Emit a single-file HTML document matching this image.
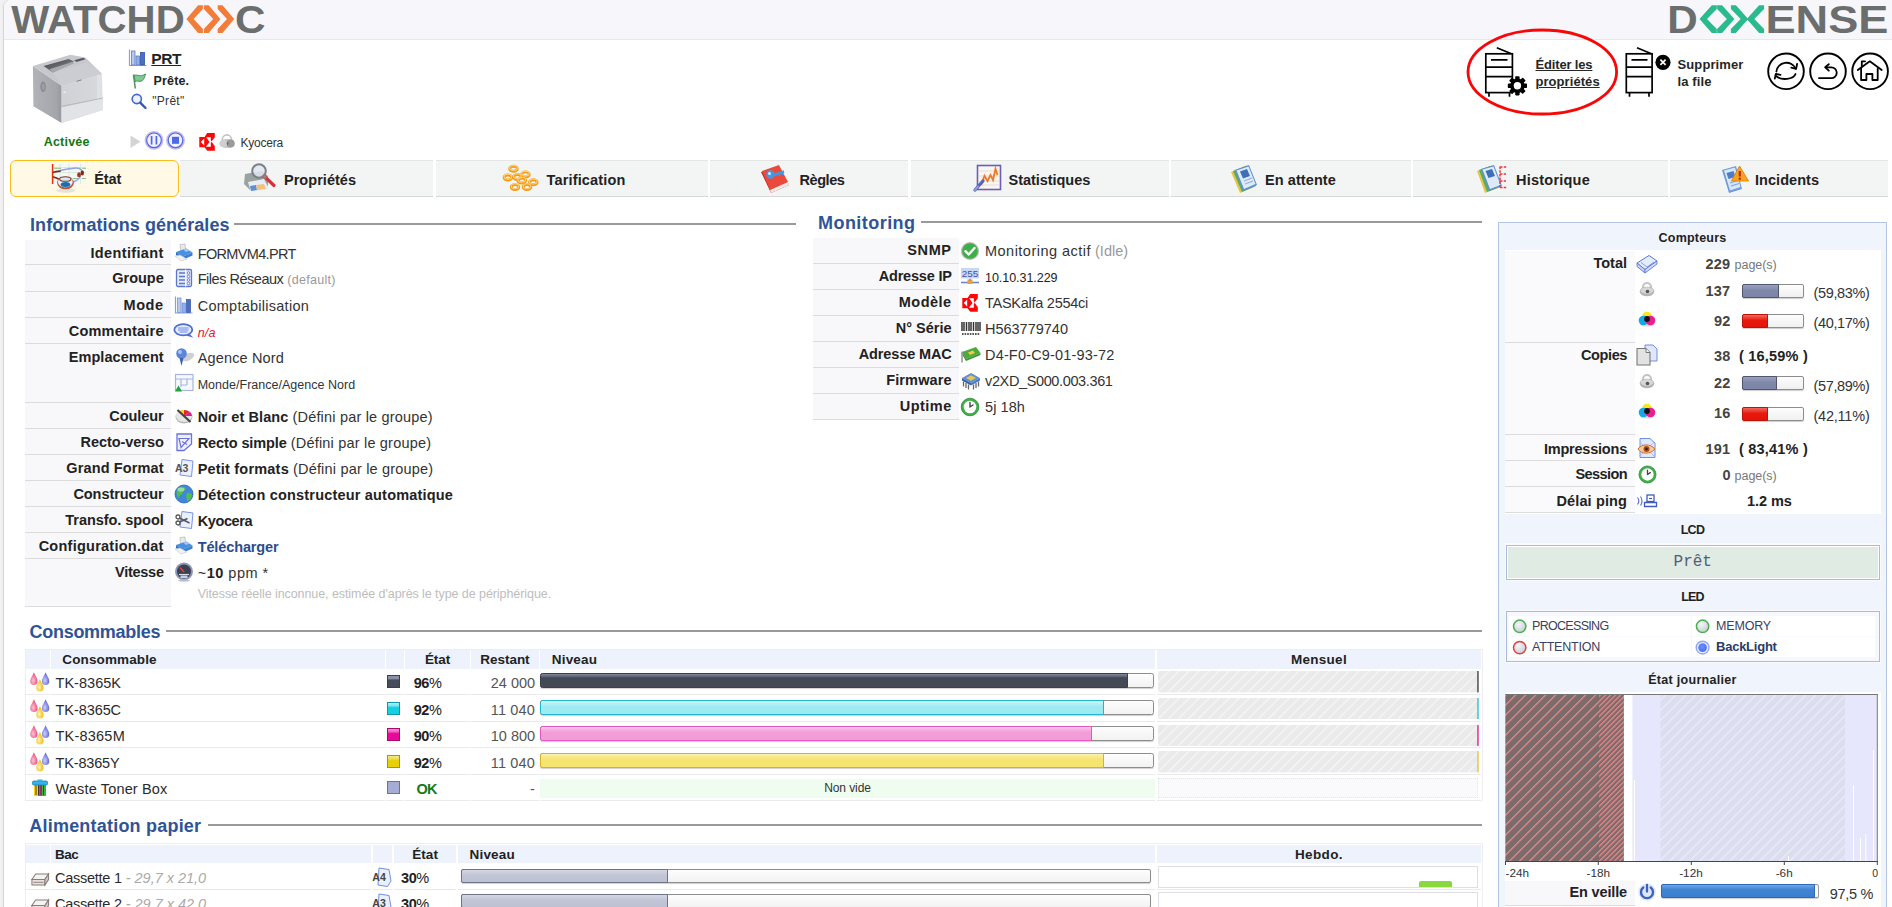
<!DOCTYPE html>
<html lang="fr">
<head>
<meta charset="utf-8">
<title>Watchdoc - PRT</title>
<style>
html,body{margin:0;padding:0}
body{width:1892px;height:907px;overflow:hidden;position:relative;background:#f1f1f1;font-family:"Liberation Sans","DejaVu Sans",sans-serif;font-size:14px;color:#333;line-height:1}
.a{position:absolute}
svg{display:block;overflow:visible}
b,.b{font-weight:bold}
/* header */
#top{left:3.500px;top:0;width:1889px;background:#f7f7fb;border-bottom:1px solid #e6e6f4;border-top-left-radius:7px;box-sizing:border-box;height:40px}
#leftline{left:3.500px;top:0;width:1889px;height:910px;background:#fff;border-top-left-radius:7px;box-shadow:-.5px 0 1.200px #d4d4d4}
/* tabs */
.tab{top:160px;height:37px;box-sizing:border-box;background:#f3f5f5;border-top:1px solid #e4e6e6;border-bottom:1.500px solid #d6d8d8;font-weight:bold;font-size:14.5px;color:#222;white-space:nowrap}
.tab span{position:absolute;top:11.800px}
.tab span.n{position:static}
.tab.sel{background:#fff9e6;border:1.500px solid #fbbd1c;border-radius:6px;height:36.800px}
/* section titles */
.h{font-size:18px;font-weight:bold;color:#2f5496;white-space:nowrap;letter-spacing:.1px}
.hl{height:2px;background:#9a9a9a}
/* info tables */
.lab{background:#f8f8fa;border-bottom:1px solid #dcdcdc;box-sizing:border-box}
.lt{font-weight:bold;color:#222;text-align:right;white-space:nowrap;font-size:14.5px}
.v{white-space:nowrap;color:#333;font-size:14.5px}
.g{color:#999}
.s{font-size:12.5px}
</style>
</head>
<body>
<div class="a" id="leftline"></div>
<div class="a" id="top"></div>

<!-- WATCHDOC logo -->
<svg class="a" style="left:0;top:0" width="280" height="40" viewBox="0 0 280 40">
<text x="11.2" y="32.9" font-family="Liberation Sans, sans-serif" font-weight="bold" font-size="38.7" fill="#6b6e6d" textLength="173.5" lengthAdjust="spacingAndGlyphs">WATCHD</text>
<g fill="#f27d38">
<polygon points="186.4,19.0 198.1,5.2 202.9,5.2 202.9,8.9 193.6,19.0 202.9,29.1 202.9,32.9 198.1,32.9"/>
<polygon points="220.4,19.0 208.7,5.2 203.9,5.2 203.9,8.9 213.2,19.0 203.9,29.1 203.9,32.9 208.7,32.9"/>
<polygon points="234.2,19.0 222.5,5.2 217.7,5.2 217.7,8.9 227.0,19.0 217.7,29.1 217.7,32.9 222.5,32.9"/>
</g>
<text x="235" y="32.9" font-family="Liberation Sans, sans-serif" font-weight="bold" font-size="38.7" fill="#6b6e6d" textLength="30.5" lengthAdjust="spacingAndGlyphs">C</text>
</svg>

<!-- DOXENSE logo -->
<svg class="a" style="left:1660px;top:0" width="232" height="40" viewBox="1660 0 232 40">
<text x="1667.3" y="32.9" font-family="Liberation Sans, sans-serif" font-weight="bold" font-size="38.7" fill="#6b6e6d" textLength="30.5" lengthAdjust="spacingAndGlyphs">D</text>
<g fill="#2bba8e">
<polygon points="1699.5,19.0 1711.8,5.2 1716.8,5.2 1716.8,8.9 1707.0,19.0 1716.8,29.1 1716.8,32.9 1711.8,32.9"/>
<polygon points="1734.4,19.0 1722.1,5.2 1717.1,5.2 1717.1,8.9 1726.9,19.0 1717.1,29.1 1717.1,32.9 1722.1,32.9"/>
<polygon points="1748.2,19.0 1735.9,5.2 1730.9,5.2 1730.9,8.9 1740.7,19.0 1730.9,29.1 1730.9,32.9 1735.9,32.9"/>
<polygon points="1746.8,19.0 1759.1,5.2 1764.1,5.2 1764.1,8.9 1754.3,19.0 1764.1,29.1 1764.1,32.9 1759.1,32.9"/>
</g>
<text x="1765.5" y="32.9" font-family="Liberation Sans, sans-serif" font-weight="bold" font-size="38.7" fill="#6b6e6d" textLength="123" lengthAdjust="spacingAndGlyphs">ENSE</text>
</svg>

<!-- ACTIONS -->
<svg class="a" style="left:1460px;top:24px" width="432" height="96" viewBox="1460 24 432 96">
<ellipse cx="1542.3" cy="72" rx="74.3" ry="42" fill="none" stroke="#fa0606" stroke-width="2.800"/>
<!-- printer with gear -->
<g fill="none" stroke="#000" stroke-width="1.7">
<rect x="1485.8" y="53.8" width="26.6" height="38.8"/>
<path d="M1485.8 67.2h26.6M1485.8 76.7h26.6M1491 59.8h16.5M1496.8 47.8l14.6 6M1489 92.6v4.2M1509.5 92.6v4.2"/>
</g>
<circle cx="1517.4" cy="85.8" r="8.6" fill="#fff"/>
<g transform="translate(1517.4 85.8)" fill="#000">
<circle r="7.2"/>
<rect x="-2.200" y="-9.600" width="4.400" height="19.200" rx=".8"/><rect x="-2.200" y="-9.600" width="4.400" height="19.200" rx=".8" transform="rotate(45)"/><rect x="-2.200" y="-9.600" width="4.400" height="19.200" rx=".8" transform="rotate(90)"/><rect x="-2.200" y="-9.600" width="4.400" height="19.200" rx=".8" transform="rotate(135)"/>
<circle r="3.7" fill="#fff"/>
</g>
<!-- printer with x -->
<g fill="none" stroke="#000" stroke-width="1.7">
<rect x="1626.3" y="53.8" width="25.8" height="38.8"/>
<path d="M1626.3 67.2h25.8M1626.3 76.7h25.8M1631.5 59.8h16M1637 47.8l14.4 6M1629.5 92.6v4.2M1649 92.6v4.2"/>
</g>
<circle cx="1663" cy="62.3" r="7.6" fill="#000"/>
<path d="M1660.4 59.7l5.2 5.2M1665.6 59.7l-5.2 5.2" stroke="#fff" stroke-width="1.7" fill="none"/>
<!-- round buttons -->
<g fill="#fff" stroke="#000" stroke-width="1.900">
<circle cx="1786" cy="71.300" r="17.800"/><circle cx="1828" cy="71.300" r="17.800"/><circle cx="1870.100" cy="71.300" r="17.800"/>
</g>
<g fill="none" stroke="#000" stroke-width="1.800" stroke-linecap="round" stroke-linejoin="round">
<!-- refresh -->
<path d="M1776.400 71.500A10 9.300 0 0 1 1795.700 68.700"/>
<path d="M1795.500 74A10.500 6 0 0 1 1776.100 76"/>
<path d="M1791.300 67.600l4.800 1.200 1-4.800M1780.500 74.900l-4.700-1-1 4.700"/>
<!-- back -->
<path d="M1819 78.200h12.300a5.450 5.450 0 0 0 0-10.900h-5.500"/>
<path d="M1828.800 64.200l-3.600 3.100 3.600 3.400"/>
<!-- home -->
<path d="M1857.800 70l12-8.700 11.900 8.700"/>
<path d="M1861.800 66.500v-5.200h3.300"/>
<path d="M1861.100 68.600v11.400h5.300v-6h6v6h5.300v-11.400"/>
</g>
</svg>
<div class="a b" style="left:1535.500px;top:55.700px;font-size:13px;line-height:17px;color:#262626;text-decoration:underline;white-space:nowrap;"><span style="letter-spacing:-0.16px">Éditer les</span><br><span style="letter-spacing:0.06px">propriétés</span></div>
<div class="a b" style="left:1677.500px;top:55.700px;font-size:13px;line-height:17px;color:#262626;white-space:nowrap;"><span style="letter-spacing:0.11px">Supprimer</span><br><span style="letter-spacing:0.11px">la file</span></div>

<!-- PRINTER HEAD -->
<svg class="a" style="left:26px;top:46px" width="86" height="84" viewBox="26 46 86 84">
<defs>
<linearGradient id="pg1" x1="0" y1="0" x2="1" y2="0"><stop offset="0" stop-color="#b1b3b8"/><stop offset=".8" stop-color="#a4a6ab"/><stop offset="1" stop-color="#96989d"/></linearGradient>
<linearGradient id="pg2" x1="0" y1="0" x2="1" y2="0"><stop offset="0" stop-color="#cfd1d5"/><stop offset=".85" stop-color="#d6d8dc"/><stop offset=".87" stop-color="#e0e2e5"/><stop offset="1" stop-color="#dcdee2"/></linearGradient>
<linearGradient id="pg3" x1="0" y1="0" x2="1" y2="1"><stop offset="0" stop-color="#3e4044"/><stop offset="1" stop-color="#8e9095"/></linearGradient>
<filter id="pbl" x="-5%" y="-5%" width="110%" height="110%"><feGaussianBlur stdDeviation=".45"/></filter>
</defs>
<g filter="url(#pbl)">
<polygon points="32.900,65.900 61.600,85.800 61.600,122.900 33.400,106.200" fill="url(#pg1)"/>
<polygon points="61.600,85.800 101.900,73.800 102.900,109.900 61.600,122.900" fill="url(#pg2)"/>
<polygon points="61.600,107 102.900,98.200 102.900,109.900 61.600,122.900" fill="#e1e3e6"/>
<polygon points="61.600,105.800 102.900,97.400 102.900,98.600 61.600,107.300" fill="#b9bbc0"/>
<polygon points="32.900,65.900 70.400,54.800 85.300,57.600 101.900,73.800 61.600,85.800" fill="#c6c8cd"/>
<polygon points="52.900,72.400 88,62.500 101.900,73.800 61.600,85.800" fill="#cbcdd2"/>
<polygon points="43.600,65.900 68.600,59 74,61.500 52.900,72.400" fill="url(#pg3)"/>
<polygon points="49.500,69.300 72,62 74.500,63.300 52.900,72.400" fill="#a6a8ad"/>
<polygon points="74.100,60.300 83.400,57.800 85.500,59.300 76.500,62" fill="#595b60"/>
<ellipse cx="43.100" cy="86.700" rx="2.800" ry="5.400" fill="#8b8d93"/>
<ellipse cx="43.300" cy="86.700" rx="1.300" ry="3.300" fill="#9d9fa5"/>
<path d="M63.500 92.500l2.500-.7" stroke="#f4f4f6" stroke-width="1.200"/>
<path d="M76.500 81.300l5-1.400" stroke="#6a6c70" stroke-width=".8"/>
</g>
</svg>
<div class="a b" style="left:43.700px;top:135.800px;font-size:12.500px;color:#127812"><span style="letter-spacing:0.22px">Activée</span></div>
<!-- chart icon -->
<svg class="a" style="left:128px;top:48px" width="20" height="20" viewBox="0 0 20 20">
<path d="M1.500 1.500v16h17" fill="none" stroke="#8aa0d6" stroke-width="1.200"/>
<rect x="3.500" y="3" width="3.500" height="14" fill="#b9c9ee" stroke="#5d7cc9" stroke-width=".8"/>
<rect x="8" y="8" width="3.500" height="9" fill="#8fb0e8" stroke="#5d7cc9" stroke-width=".8"/>
<rect x="12.500" y="4.500" width="4" height="12.500" fill="#4a6fc4" stroke="#3555a5" stroke-width=".8"/>
</svg>
<div class="a b" style="left:151.300px;top:51px;font-size:15.500px;color:#222;text-decoration:underline"><span style="letter-spacing:-0.40px">PRT</span></div>
<!-- flag -->
<svg class="a" style="left:130px;top:72px" width="18" height="18" viewBox="0 0 18 18">
<path d="M3.500 2.500l1.800 14" stroke="#4f9a63" stroke-width="1.600" fill="none"/>
<path d="M4.200 3.200c3.500-1 5.500 2.300 11.300-1.200-.6 3.300-1.600 5-3.300 6.800-3.300 1.600-4.800-.7-7.200.7z" fill="#7fc794" stroke="#3f8f57" stroke-width=".9"/>
</svg>
<div class="a b" style="left:153.500px;top:75.200px;font-size:12.500px;color:#222"><span style="letter-spacing:0.16px">Prête.</span></div>
<!-- magnifier -->
<svg class="a" style="left:130px;top:92px" width="18" height="18" viewBox="0 0 18 18">
<circle cx="6.800" cy="7" r="4.600" fill="#eef2ff" stroke="#4467c9" stroke-width="1.600"/>
<path d="M10.200 10.600l5.300 5.400" stroke="#3557b7" stroke-width="2.400" stroke-linecap="round"/>
</svg>
<div class="a" style="left:152.200px;top:94.700px;font-size:12px;color:#333"><span style="letter-spacing:0.31px">"Prêt"</span></div>
<!-- play / pause / stop -->
<svg class="a" style="left:128px;top:130px" width="112" height="24" viewBox="128 130 112 24">
<polygon points="130.500,135.500 130.500,148 140.500,141.700" fill="#d4d4d4"/>
<circle cx="154" cy="140.300" r="8.300" fill="#f4f0ff" stroke="#c5b8f2" stroke-width="2.200"/>
<circle cx="154" cy="140.300" r="7.300" fill="none" stroke="#4a6ae8" stroke-width="1.200"/>
<path d="M151.600 136v8.600M156.400 136v8.600" stroke="#4a6ae8" stroke-width="1.700"/>
<circle cx="175.500" cy="140.300" r="8.300" fill="#f4f0ff" stroke="#c5b8f2" stroke-width="2.200"/>
<circle cx="175.500" cy="140.300" r="7.300" fill="none" stroke="#4a6ae8" stroke-width="1.200"/>
<rect x="172" y="136.800" width="7" height="7" fill="#4a6ae8"/>
<!-- kyocera mark -->
<polygon points="207.200,132.900 214.800,132.900 214.800,137.200 211.500,141.500 214.800,146.200 214.800,150.800 207.200,150.800 204.600,147.200 199.300,147.200 199.300,136.900 204.600,136.900" fill="#fb0707"/>
<polygon points="200.800,141.900 204.200,138.600 204.200,145.400" fill="#fff"/>
<polygon points="206.200,137.200 210.800,137.200 210.800,140.200 211.800,141.500 210.800,143.200 210.800,146.800 205.900,146.800 209.500,141.900" fill="#fff"/>
<!-- lock -->
<path d="M222.300 141.500v-2a4.600 4.600 0 0 1 9.200 0v2" fill="#fff" stroke="#c4c4c4" stroke-width="1.600"/>
<ellipse cx="227" cy="143.500" rx="7.600" ry="4.600" fill="#c6c6c6"/>
<circle cx="230.600" cy="143.500" r="4.100" fill="#9a9a9a"/>
<circle cx="223.300" cy="143.500" r="3.600" fill="#cfcfcf"/>
<ellipse cx="227.600" cy="143.300" rx=".8" ry="1.600" fill="#5a6a88"/>
</svg>
<div class="a" style="left:240.400px;top:136.500px;font-size:12px;color:#333"><span style="letter-spacing:-0.19px">Kyocera</span></div>

<!-- TABS -->
<div class="a tab sel" style="left:10px;width:169px;top:160px"><span style="left:83.200px;top:11.400px"><span style="letter-spacing:-0.08px" class="n">État</span></span>
<svg class="a" style="left:34.500px;top:-1.500px" width="48" height="36" viewBox="46 160 48 36">
<rect x="52" y="164" width="34" height="20" fill="#f5f8f5"/>
<path d="M52 167.500h34M52 172.500h34M52 178.500h34M60 164v20M69 164v20M80.500 164v20" stroke="#d5e6d3" stroke-width=".8"/>
<path d="M54 168.300h7M68 168.300h6M82 168.300h4M73 178.500h5M82 178.500h4" stroke="#8fc08a" stroke-width="1"/>
<path d="M52.600 164v20" stroke="#e6330e" stroke-width="1.500"/>
<path d="M60 170.500c5-1 8-1.500 12-2 4-.8 8-.6 9.500 1.500 1 1.500.6 3.500-.8 5.500-1 2.500-3 5.500-8 6.500" fill="none" stroke="#8fa3e8" stroke-width="1.300"/>
<path d="M53.500 172.300c2-.8 4-1 6.500-1.200M53.500 177c2 .4 4 1.200 6 2.600" fill="none" stroke="#7a2c1c" stroke-width="1.700" stroke-linecap="round"/>
<ellipse cx="79" cy="174.800" rx="1.900" ry="2.500" fill="#a8351f"/><ellipse cx="82.300" cy="173" rx="1.700" ry="2.400" fill="#8a2414"/>
<ellipse cx="66" cy="190.500" rx="9.500" ry="2.200" fill="#e6e2d6"/>
<ellipse cx="65.500" cy="183" rx="8.400" ry="6.300" fill="#b8583f"/>
<ellipse cx="65.300" cy="182" rx="7.400" ry="5.200" fill="#e8f2fb"/>
<ellipse cx="65.500" cy="184.600" rx="4.800" ry="2.500" fill="#1f6ea5"/>
<ellipse cx="65.300" cy="179" rx="5.700" ry="2.300" fill="#cfeaf8" stroke="#8a3a28" stroke-width="1.100"/>
</svg></div>

<div class="a tab" style="left:180px;width:253px"><span style="left:104px"><span style="letter-spacing:0.03px" class="n">Propriétés</span></span>
<svg class="a" style="left:62px;top:1px" width="36" height="32" viewBox="0 0 36 32">
<polygon points="3,12 20,9 26,14 26,24 8,28 2,22" fill="#9aa39f"/>
<polygon points="6,20 22,17 27,27 9,30" fill="#e8eef5"/>
<polygon points="8,24 14,23 15,28 9,29" fill="#5f8fd0"/>
<polygon points="14,23 22,22 24,27 15,28" fill="#f1c27a"/>
<circle cx="17" cy="9" r="6.800" fill="#dfe6ee" fill-opacity=".85" stroke="#7a7f88" stroke-width="2"/>
<path d="M22 14l10 9.500" stroke="#d0343a" stroke-width="3.200" stroke-linecap="round"/>
<path d="M21 13l3 3" stroke="#8a8a8a" stroke-width="2.500"/>
</svg></div>

<div class="a tab" style="left:436px;width:272px"><span style="left:110.500px"><span style="letter-spacing:0.16px" class="n">Tarification</span></span>
<svg class="a" style="left:64px;top:3px" width="40" height="30" viewBox="0 0 40 30">
<g fill="none" stroke="#f59a12" stroke-width="2.900"><ellipse cx="13.5" cy="4.8" rx="3.800" ry="2.500"/><ellipse cx="7.9" cy="13.5" rx="3.800" ry="2.500"/><ellipse cx="17.4" cy="13.0" rx="3.800" ry="2.500"/><ellipse cx="25.4" cy="10.4" rx="3.800" ry="2.500"/><ellipse cx="33.3" cy="18.3" rx="3.800" ry="2.500"/><ellipse cx="15" cy="23.1" rx="3.800" ry="2.500"/><ellipse cx="27" cy="23.1" rx="3.800" ry="2.500"/><ellipse cx="21.8" cy="16.5" rx="3.800" ry="2.500"/></g>
<g fill="none" stroke="#ffd27a" stroke-width="1.100"><ellipse cx="13.5" cy="4.0" rx="3.800" ry="2.500"/><ellipse cx="7.9" cy="12.7" rx="3.800" ry="2.500"/><ellipse cx="17.4" cy="12.2" rx="3.800" ry="2.500"/><ellipse cx="25.4" cy="9.6" rx="3.800" ry="2.500"/><ellipse cx="33.3" cy="17.5" rx="3.800" ry="2.500"/><ellipse cx="15" cy="22.3" rx="3.800" ry="2.500"/><ellipse cx="27" cy="22.3" rx="3.800" ry="2.500"/><ellipse cx="21.8" cy="15.7" rx="3.800" ry="2.500"/></g>
</svg></div>

<div class="a tab" style="left:710px;width:198px"><span style="left:89.500px"><span style="letter-spacing:-0.43px" class="n">Règles</span></span>
<svg class="a" style="left:48px;top:2px" width="36" height="32" viewBox="0 0 36 32">
<polygon points="3,9 20,3 31,22 13,30" fill="#c42a22"/>
<polygon points="4,8 21,2 30,19 12,27" fill="#ea4a3c"/>
<polygon points="12,27 30,19 31,22 13,30" fill="#f4e9e4"/>
<circle cx="12.500" cy="11.500" r="4.200" fill="#3b9be8"/>
<circle cx="11.500" cy="10.500" r="1.500" fill="#d6ecff"/>
<path d="M16 12l10-3.500" stroke="#3b9be8" stroke-width="2.400"/>
<path d="M21 10.500l1 2.500M24 9.500l1 2.500" stroke="#3b9be8" stroke-width="1.600"/>
</svg></div>

<div class="a tab" style="left:911px;width:258px"><span style="left:97.500px"><span style="letter-spacing:-0.04px" class="n">Statistiques</span></span>
<svg class="a" style="left:62px;top:3px" width="30" height="30" viewBox="0 0 30 30">
<rect x="4.500" y="1.500" width="23" height="24" fill="#fbf6f4" stroke="#6a5fb0" stroke-width="1.600"/>
<path d="M6 7h20M6 12h20M6 17h20M6 21h20" stroke="#e6dcd8" stroke-width="1"/>
<path d="M8 21l3.500-9 3 5 3-6 2.500 5 2.500-11 2 6" fill="none" stroke="#f07a28" stroke-width="1.900"/>
<path d="M2 26l8-9" stroke="#5566b8" stroke-width="3.200" stroke-linecap="round"/>
<path d="M2 26l3-3.500" stroke="#8f9ad6" stroke-width="2" stroke-linecap="round"/>
</svg></div>

<div class="a tab" style="left:1171px;width:240px"><span style="left:94px"><span style="letter-spacing:0.08px" class="n">En attente</span></span>
<svg class="a" style="left:58px;top:2px" width="30" height="32" viewBox="0 0 30 32">
<polygon points="2,9 16,3 25,24 11,30" fill="#e8c34a"/>
<polygon points="4,8 18,2.500 27,23 13,29" fill="#5cae5c"/>
<polygon points="6,7 20,2 28,22 14,28" fill="#5e90d6"/>
<polygon points="7.500,7.500 19.500,3.500 26.500,21 15,26" fill="#dfeaf8"/>
<polygon points="11,8.500 18,6 21,13 14,15.500" fill="#3f6fb8"/>
<path d="M15 18l8-3M16 21l8-3" stroke="#8fb0de" stroke-width="1.200"/>
</svg></div>

<div class="a tab" style="left:1413px;width:255px"><span style="left:103px"><span style="letter-spacing:0.23px" class="n">Historique</span></span>
<svg class="a" style="left:62px;top:2px" width="36" height="32" viewBox="0 0 36 32">
<polygon points="2,8 15,3 23,25 10,30" fill="#e8c34a"/>
<polygon points="4,7 17,2.500 25,24 12,29" fill="#5cae5c"/>
<polygon points="6,6 19,2 27,23 14,28" fill="#5e90d6"/>
<polygon points="7.500,6.500 18.500,3.500 25.500,22 15,26" fill="#dfeaf8"/>
<polygon points="10.500,8 17,6 20,13 13.500,15" fill="#3f6fb8"/>
<path d="M25 3.500v21M25 4h7M25 11h6M25 18h6M25 24.500h7" fill="none" stroke="#e43a3a" stroke-width="1.500" stroke-dasharray="2.500 1.200"/>
</svg></div>

<div class="a tab" style="left:1670px;width:218px"><span style="left:85px"><span style="letter-spacing:0.04px" class="n">Incidents</span></span>
<svg class="a" style="left:50px;top:2px" width="32" height="32" viewBox="0 0 32 32">
<polygon points="2,7 16,3 22,26 9,30" fill="#6d9bdc"/>
<polygon points="4,7.500 15,4.500 20.500,24 10,27.500" fill="#d9e6f7"/>
<polygon points="6.500,10 13.500,8 15.500,14 8.500,16" fill="#4d7cc4"/>
<path d="M10 20l8-2.500M11 23l8-2.500" stroke="#7fa4dc" stroke-width="1.300"/>
<polygon points="19.500,3 28.500,18 11.500,18" fill="#f7a51c" stroke="#e8890c" stroke-width="1"/>
<path d="M19.800 8v5.500" stroke="#c0261c" stroke-width="2.200"/>
<circle cx="19.800" cy="15.700" r="1.200" fill="#c0261c"/>
</svg></div>

<!-- INFORMATIONS GENERALES -->
<div class="a h" style="left:30px;top:215.7px"><span style="letter-spacing:0.07px">Informations générales</span></div>
<div class="a hl" style="left:234px;top:223px;width:562px"></div>
<div class="a lab" style="left:25px;top:240px;width:146px;height:25px"><div class="lt" style="padding-right:7.300px;line-height:26px;margin-top:-0.5px"><span style="letter-spacing:0.36px">Identifiant</span></div></div>
<div class="a" style="left:174px;top:243px"><svg width="20" height="20" viewBox="0 0 20 20"><polygon points="6,1.500 11,1 11.500,7 6.500,7.500" fill="#e9e9e9" stroke="#aaa" stroke-width=".6"/><polygon points="2,9 12,5.500 18.500,9.500 8,14" fill="#4a90e0"/><polygon points="2,9 8,14 8,17 2,12" fill="#2f6fc0"/><polygon points="8,14 18.500,9.500 18.500,12.500 8,17" fill="#3a7fd4"/><polygon points="1,13 7,18 13,16 6,12" fill="#f2f2f2" stroke="#bbb" stroke-width=".5"/><polygon points="9,6.500 13,5.500 16,7.500 12,9" fill="#9cc6f4"/></svg></div>
<div class="a v" style="left:197.7px;top:240.5px;line-height:26px"><span style="letter-spacing:-0.66px">FORMVM4.PRT</span></div>
<div class="a lab" style="left:25px;top:265px;width:146px;height:27px"><div class="lt" style="padding-right:7.300px;line-height:26px;margin-top:-0.5px"><span style="letter-spacing:-0.03px">Groupe</span></div></div>
<div class="a" style="left:174px;top:268px"><svg width="20" height="20" viewBox="0 0 20 20"><rect x="2.500" y="1.500" width="15" height="17" rx="1.500" fill="#e4eafb" stroke="#5d78c8" stroke-width="1.300"/><path d="M5 5h6M5 8.500h6M5 12h6M5 15.500h6" stroke="#5d78c8" stroke-width="1.500"/><g fill="#fff" stroke="#5d78c8" stroke-width=".9"><circle cx="14.500" cy="5" r="1.300"/><circle cx="14.500" cy="8.500" r="1.300"/><circle cx="14.500" cy="12" r="1.300"/><circle cx="14.500" cy="15.500" r="1.300"/></g><rect x="11" y="1.500" width="1.200" height="17" fill="#f4f6fd"/></svg></div>
<div class="a v" style="left:197.7px;top:265.5px;line-height:26px"><span style="letter-spacing:-0.48px">Files Réseaux</span> <span class="g s"><span style="letter-spacing:0.29px">(default)</span></span></div>
<div class="a lab" style="left:25px;top:292px;width:146px;height:26px"><div class="lt" style="padding-right:7.300px;line-height:26px;margin-top:-0.5px"><span style="letter-spacing:0.59px">Mode</span></div></div>
<div class="a" style="left:174px;top:295px"><svg width="20" height="20" viewBox="0 0 20 20"><path d="M1.500 1.500v16.500h17" fill="none" stroke="#8aa0d6" stroke-width="1.200"/><rect x="3.500" y="3" width="3.500" height="14.500" fill="#b9c9ee" stroke="#6d8ad0" stroke-width=".7"/><rect x="8" y="8" width="3.500" height="9.500" fill="#8fb0e8" stroke="#6d8ad0" stroke-width=".7"/><rect x="12.500" y="4.500" width="4" height="13" fill="#4a6fc4" stroke="#3555a5" stroke-width=".7"/></svg></div>
<div class="a v" style="left:197.7px;top:292.5px;line-height:26px"><span style="letter-spacing:0.26px">Comptabilisation</span></div>
<div class="a lab" style="left:25px;top:318px;width:146px;height:26px"><div class="lt" style="padding-right:7.300px;line-height:26px;margin-top:-0.5px"><span style="letter-spacing:0.21px">Commentaire</span></div></div>
<div class="a" style="left:173px;top:321px"><svg width="22" height="20" viewBox="0 0 22 20"><path d="M16 12.500l4.500 4.300-7.500-2.300z" fill="#4f6fd0"/><ellipse cx="10.300" cy="8.800" rx="9" ry="5.600" fill="#e6ecff" stroke="#4f6fd0" stroke-width="1.800"/><path d="M5 7h10.500M5 9h10.500M6.500 11h8" stroke="#6f8be0" stroke-width="1.100"/></svg></div>
<div class="a v" style="left:197.7px;top:318.5px;line-height:26px"><i class="s" style="color:#e8112d"><span style="letter-spacing:0.14px">n/a</span></i></div>
<div class="a lab" style="left:25px;top:344px;width:146px;height:59px"><div class="lt" style="padding-right:7.300px;line-height:26px;margin-top:-0.5px"><span style="letter-spacing:0.06px">Emplacement</span></div></div>
<div class="a" style="left:174px;top:347px"><svg width="22" height="20" viewBox="0 0 22 20"><ellipse cx="14" cy="10" rx="6.500" ry="3.500" fill="#cfcfcf" transform="rotate(-25 14 10)"/><circle cx="7.500" cy="6.500" r="5.300" fill="#5b86dc"/><circle cx="6" cy="5" r="2" fill="#a9c6f6"/><path d="M5.500 11l2 8 2-8z" fill="#3a62b8"/></svg></div>
<div class="a v" style="left:197.7px;top:344.5px;line-height:26px"><span style="letter-spacing:0.15px">Agence Nord</span></div>
<div class="a" style="left:174px;top:373px"><svg width="20" height="20" viewBox="0 0 20 20"><rect x="1.500" y="1.500" width="17.500" height="16" fill="#f6f8ff" stroke="#a9b6da" stroke-width="1.200"/><path d="M1.500 6h17.500M7 6v8M13 6v6M7 12h6" stroke="#a9b6da" stroke-width="1.200" fill="none"/><polygon points="1,18.500 4.500,12.500 8,18.500" fill="#22a33a"/></svg></div><div class="a v s" style="left:197.7px;top:371.500px;line-height:26px"><span style="letter-spacing:0.02px">Monde/France/Agence Nord</span></div>
<div class="a lab" style="left:25px;top:403px;width:146px;height:26px"><div class="lt" style="padding-right:7.300px;line-height:26px;margin-top:-0.5px"><span style="letter-spacing:-0.05px">Couleur</span></div></div>
<div class="a" style="left:174px;top:406px"><svg width="20" height="20" viewBox="0 0 20 20"><ellipse cx="10" cy="11" rx="8.500" ry="6.500" fill="#b9b9b9"/><ellipse cx="10" cy="10" rx="8" ry="6" fill="#e6e6e6"/><path d="M10 10L4 5.500A8 6 0 0 1 10 4z" fill="#f4d21f"/><path d="M10 10V4a8 6 0 0 1 6 2z" fill="#e8232e"/><path d="M10 10l6-4a8 6 0 0 1 2 4z" fill="#d61f9a"/><path d="M3.500 4l13 12" stroke="#444" stroke-width="2.200"/></svg></div>
<div class="a v" style="left:197.7px;top:403.5px;line-height:26px"><b style="color:#222"><span style="letter-spacing:0.10px">Noir et Blanc</span></b> <span style="letter-spacing:0.19px">(Défini par le groupe)</span></div>
<div class="a lab" style="left:25px;top:429px;width:146px;height:26px"><div class="lt" style="padding-right:7.300px;line-height:26px;margin-top:-0.5px"><span style="letter-spacing:-0.06px">Recto-verso</span></div></div>
<div class="a" style="left:174px;top:432px"><svg width="20" height="20" viewBox="0 0 20 20"><polygon points="3,2 17.500,2 17.500,12 10,18.500 3,18.500" fill="#eef0ff" stroke="#6b74d6" stroke-width="1.300"/><path d="M5 6.500h10l-8 9zM8 9.500l5 3" fill="none" stroke="#6b74d6" stroke-width="1.200"/></svg></div>
<div class="a v" style="left:197.7px;top:429.5px;line-height:26px"><b style="color:#222"><span style="letter-spacing:-0.10px">Recto simple</span></b> <span style="letter-spacing:0.19px">(Défini par le groupe)</span></div>
<div class="a lab" style="left:25px;top:455px;width:146px;height:26px"><div class="lt" style="padding-right:7.300px;line-height:26px;margin-top:-0.5px"><span style="letter-spacing:0.13px">Grand Format</span></div></div>
<div class="a" style="left:174px;top:458px"><svg width="22" height="20" viewBox="0 0 22 20"><polygon points="8,1.500 19,3 17.500,18.500 6,17" fill="#eaf0ff" stroke="#7a93dc" stroke-width="1"/><text x="1" y="14" font-family="Liberation Sans, sans-serif" font-size="10.500" font-weight="bold" fill="#555">A3</text></svg></div>
<div class="a v" style="left:197.7px;top:455.5px;line-height:26px"><b style="color:#222"><span style="letter-spacing:0.20px">Petit formats</span></b> <span style="letter-spacing:0.19px">(Défini par le groupe)</span></div>
<div class="a lab" style="left:25px;top:481px;width:146px;height:26px"><div class="lt" style="padding-right:7.300px;line-height:26px;margin-top:-0.5px"><span style="letter-spacing:-0.06px">Constructeur</span></div></div>
<div class="a" style="left:174px;top:484px"><svg width="20" height="20" viewBox="0 0 20 20"><circle cx="10" cy="10" r="9" fill="#3f86dc"/><path d="M5 3.500c3-1.500 6-1 7 1-1 2-3 2-3.500 4.500-1 2.500-3 2-4 5C2 11 2 6 5 3.500z" fill="#4fc04a"/><path d="M13 9c2-.5 4 0 5 2-.5 3-2 5-4.500 6.500-1-2-.5-4-1.500-5.500z" fill="#4fc04a"/><circle cx="10" cy="10" r="9" fill="none" stroke="#2a62a8" stroke-width=".8"/><ellipse cx="7" cy="5.500" rx="3.500" ry="2" fill="#fff" fill-opacity=".45"/></svg></div>
<div class="a v" style="left:197.7px;top:481.5px;line-height:26px"><b style="color:#222"><span style="letter-spacing:0.19px">Détection constructeur automatique</span></b></div>
<div class="a lab" style="left:25px;top:507px;width:146px;height:26px"><div class="lt" style="padding-right:7.300px;line-height:26px;margin-top:-0.5px"><span style="letter-spacing:-0.05px">Transfo. spool</span></div></div>
<div class="a" style="left:174px;top:510px"><svg width="22" height="20" viewBox="0 0 22 20"><polygon points="8,1.500 19,3 17.500,18.500 6,17" fill="#eaf0ff" stroke="#7a93dc" stroke-width="1"/><circle cx="4" cy="7" r="2" fill="none" stroke="#555" stroke-width="1.300"/><circle cx="4" cy="13" r="2" fill="none" stroke="#555" stroke-width="1.300"/><path d="M5.500 8l10 5M5.500 12l8-3.500" stroke="#555" stroke-width="1.400"/></svg></div>
<div class="a v" style="left:197.7px;top:507.5px;line-height:26px"><b style="color:#222"><span style="letter-spacing:-0.39px">Kyocera</span></b></div>
<div class="a lab" style="left:25px;top:533px;width:146px;height:26px"><div class="lt" style="padding-right:7.300px;line-height:26px;margin-top:-0.5px"><span style="letter-spacing:0.25px">Configuration.dat</span></div></div>
<div class="a" style="left:174px;top:536px"><svg width="20" height="20" viewBox="0 0 20 20"><polygon points="6,1.500 11,1 11.500,7 6.500,7.500" fill="#e9e9e9" stroke="#aaa" stroke-width=".6"/><polygon points="2,9 12,5.500 18.500,9.500 8,14" fill="#4a90e0"/><polygon points="2,9 8,14 8,17 2,12" fill="#2f6fc0"/><polygon points="8,14 18.500,9.500 18.500,12.500 8,17" fill="#3a7fd4"/><polygon points="1,13 7,18 13,16 6,12" fill="#f2f2f2" stroke="#bbb" stroke-width=".5"/><polygon points="9,6.500 13,5.500 16,7.500 12,9" fill="#9cc6f4"/></svg></div>
<div class="a v" style="left:197.7px;top:533.5px;line-height:26px"><b style="color:#2b4c8c"><span style="letter-spacing:-0.12px">Télécharger</span></b></div>
<div class="a lab" style="left:25px;top:559px;width:146px;height:48px"><div class="lt" style="padding-right:7.300px;line-height:26px;margin-top:-0.5px"><span style="letter-spacing:-0.26px">Vitesse</span></div></div>
<div class="a" style="left:174px;top:562px"><svg width="20" height="20" viewBox="0 0 20 20"><circle cx="10" cy="9.500" r="9" fill="#8d96b4"/><circle cx="10" cy="9.500" r="7" fill="#3a3f52"/><path d="M10 10l-4-4.500" stroke="#f03a2a" stroke-width="1.800"/><path d="M5 12.500h10" stroke="#d8dcea" stroke-width="1.200"/><rect x="6.500" y="13.500" width="7" height="2.500" fill="#c9cfe4"/><ellipse cx="10" cy="18.500" rx="6" ry="1.200" fill="#b9bfd6"/></svg></div>
<div class="a v" style="left:197.7px;top:559.5px;line-height:26px"><span style="letter-spacing:0.50px">~<b style="color:#222">10</b> ppm *</span></div>
<div class="a s" style="left:197.7px;top:588px;color:#bdbdbd;white-space:nowrap"><span style="letter-spacing:-0.07px">Vitesse réelle inconnue, estimée d'après le type de périphérique.</span></div>

<!-- MONITORING -->
<div class="a h" style="left:818px;top:213.7px"><span style="letter-spacing:0.45px">Monitoring</span></div>
<div class="a hl" style="left:921px;top:221px;width:561px"></div>
<div class="a lab" style="left:813px;top:238px;width:146px;height:26px"><div class="lt" style="padding-right:7.300px;line-height:26px;margin-top:-1.1px"><span style="letter-spacing:0.65px">SNMP</span></div></div>
<div class="a" style="left:960px;top:241px"><svg width="20" height="20" viewBox="0 0 20 20"><circle cx="10" cy="10" r="9" fill="#b9b9b9"/><circle cx="10" cy="10" r="7.800" fill="#3fae49"/><path d="M5.500 10.200l3.200 3.300 5.800-6.500" fill="none" stroke="#fff" stroke-width="2.400" stroke-linecap="round" stroke-linejoin="round"/></svg></div>
<div class="a v" style="left:985px;top:238.1px;line-height:26px"><span style="letter-spacing:0.48px">Monitoring actif</span> <span class="g"><span style="letter-spacing:-0.01px">(Idle)</span></span></div>
<div class="a lab" style="left:813px;top:264px;width:146px;height:26px"><div class="lt" style="padding-right:7.300px;line-height:26px;margin-top:-1.1px"><span style="letter-spacing:-0.20px">Adresse IP</span></div></div>
<div class="a" style="left:960px;top:267px"><svg width="20" height="20" viewBox="0 0 20 20"><rect x="1" y="1" width="18" height="10.500" fill="#c9d6f4"/><text x="1.800" y="9.800" font-family="Liberation Sans, sans-serif" font-size="9.500" fill="#3a56a8" textLength="16.500" lengthAdjust="spacingAndGlyphs">255</text><path d="M1 15.500h18" stroke="#6f86c8" stroke-width="1.600"/><rect x="7.500" y="12.500" width="5" height="4.500" fill="#e8a23a"/><path d="M10 11.500v2" stroke="#6f86c8" stroke-width="1.200"/></svg></div>
<div class="a v" style="left:985px;top:264.1px;line-height:26px"><span class="s" style="color:#222"><span style="letter-spacing:-0.04px">10.10.31.229</span></span></div>
<div class="a lab" style="left:813px;top:290px;width:146px;height:26px"><div class="lt" style="padding-right:7.300px;line-height:26px;margin-top:-1.1px"><span style="letter-spacing:0.51px">Modèle</span></div></div>
<div class="a" style="left:960px;top:293px"><svg width="20" height="20" viewBox="198 132 18 20"><polygon points="207.200,132.900 214.800,132.900 214.800,137.200 211.500,141.500 214.800,146.200 214.800,150.800 207.200,150.800 204.600,147.200 199.300,147.200 199.300,136.900 204.600,136.900" fill="#fb0707"/><polygon points="200.800,141.900 204.200,138.600 204.200,145.400" fill="#fff"/><polygon points="206.200,137.200 210.800,137.200 210.800,140.200 211.800,141.500 210.800,143.200 210.800,146.800 205.900,146.800 209.500,141.900" fill="#fff"/></svg></div>
<div class="a v" style="left:985px;top:290.1px;line-height:26px"><span style="letter-spacing:-0.26px">TASKalfa 2554ci</span></div>
<div class="a lab" style="left:813px;top:316px;width:146px;height:26px"><div class="lt" style="padding-right:7.300px;line-height:26px;margin-top:-1.1px"><span style="letter-spacing:0.03px">N° Série</span></div></div>
<div class="a" style="left:960px;top:319px"><svg width="22" height="20" viewBox="0 0 22 20"><path d="M2 3v9M4 3v9M6.500 3v9M9 3v9M11 3v9M13.500 3v9M16 3v9M18 3v9M20 3v9" stroke="#333" stroke-width="1.500"/><path d="M2 15h18" stroke="#555" stroke-width="2.200" stroke-dasharray="1.600 1"/></svg></div>
<div class="a v" style="left:985px;top:316.1px;line-height:26px"><span style="letter-spacing:-0.01px">H563779740</span></div>
<div class="a lab" style="left:813px;top:342px;width:146px;height:26px"><div class="lt" style="padding-right:7.300px;line-height:26px;margin-top:-1.1px"><span style="letter-spacing:-0.12px">Adresse MAC</span></div></div>
<div class="a" style="left:960px;top:345px"><svg width="22" height="20" viewBox="0 0 22 20"><polygon points="2,7 16,2 20.500,8 6,14" fill="#4cab3c"/><polygon points="2,7 6,14 6,16 2,9" fill="#2f7f28"/><polygon points="6,14 20.500,8 20.500,10 6,16" fill="#3a9530"/><polygon points="8,7.500 13,5.500 15,8 10,10" fill="#e8d04a"/><path d="M2 6.500v11" stroke="#9a9a9a" stroke-width="1.600"/></svg></div>
<div class="a v" style="left:985px;top:342.1px;line-height:26px"><span style="letter-spacing:0.17px">D4-F0-C9-01-93-72</span></div>
<div class="a lab" style="left:813px;top:368px;width:146px;height:26px"><div class="lt" style="padding-right:7.300px;line-height:26px;margin-top:-1.1px"><span style="letter-spacing:0.13px">Firmware</span></div></div>
<div class="a" style="left:960px;top:371px"><svg width="22" height="20" viewBox="0 0 22 20"><polygon points="2,7 11,2 20,7 11,12" fill="#5f8fd6"/><polygon points="6,7 11,4.200 16,7 11,9.800" fill="#e8c84a"/><polygon points="2,7 11,12 11,14.500 2,9.500" fill="#3a62a8"/><polygon points="11,12 20,7 20,9.500 11,14.500" fill="#4a78c0"/><path d="M3.500 10.500v5M6 12v5M8.500 13.500v5M13.500 13.500v5M16 12v5M18.500 10.500v5" stroke="#666" stroke-width="1.300"/></svg></div>
<div class="a v" style="left:985px;top:368.1px;line-height:26px"><span style="letter-spacing:-0.37px">v2XD_S000.003.361</span></div>
<div class="a lab" style="left:813px;top:394px;width:146px;height:26px"><div class="lt" style="padding-right:7.300px;line-height:26px;margin-top:-1.1px"><span style="letter-spacing:0.47px">Uptime</span></div></div>
<div class="a" style="left:960px;top:397px"><svg width="20" height="20" viewBox="0 0 20 20"><circle cx="10" cy="10" r="8.800" fill="#3fae49"/><circle cx="10" cy="10" r="6.300" fill="#fff"/><path d="M10 10V5.500M10 10l3-2" stroke="#444" stroke-width="1.400" stroke-linecap="round"/><circle cx="10" cy="10" r="8.800" fill="none" stroke="#2c8a36" stroke-width=".8"/></svg></div>
<div class="a v" style="left:985px;top:394.1px;line-height:26px"><span style="letter-spacing:0.08px">5j 18h</span></div>

<!-- RIGHT PANEL -->
<div class="a" style="left:1498px;top:222px;width:389px;height:700px;box-sizing:border-box;background:#f0f4fc;border:1px solid #b3c6e0"></div>
<div class="a b" style="left:1505px;width:375px;top:231.1px;text-align:center;font-size:12.500px;color:#222;line-height:14px"><span style="letter-spacing:0.20px">Compteurs</span></div>
<div class="a" style="left:1504.500px;top:250px;width:376px;height:264px;background:#fff"></div>
<div class="a lab" style="left:1505px;top:251px;width:130px;height:92px;background:#fafafc"><div class="lt" style="padding-right:8px;line-height:26px;margin-top:-0.7px"><span style="letter-spacing:-0.01px">Total</span></div></div>
<div class="a lab" style="left:1505px;top:343px;width:130px;height:92px;background:#fafafc"><div class="lt" style="padding-right:8px;line-height:26px;margin-top:-0.7px"><span style="letter-spacing:-0.39px">Copies</span></div></div>
<div class="a lab" style="left:1505px;top:435px;width:130px;height:26px;background:#fafafc"><div class="lt" style="padding-right:8px;line-height:26px;margin-top:0.6px"><span style="letter-spacing:-0.22px">Impressions</span></div></div>
<div class="a lab" style="left:1505px;top:461px;width:130px;height:26px;background:#fafafc"><div class="lt" style="padding-right:8px;line-height:26px;margin-top:0.3px"><span style="letter-spacing:-0.57px">Session</span></div></div>
<div class="a lab" style="left:1505px;top:487px;width:130px;height:26px;background:#fafafc"><div class="lt" style="padding-right:8px;line-height:26px;margin-top:0.6px"><span style="letter-spacing:0.12px">Délai ping</span></div></div>
<div class="a" style="left:1636px;top:253.5px"><svg width="22" height="20" viewBox="0 0 22 20"><polygon points="1,9 13,1.500 21,7 9,15.500" fill="#e4ecff" stroke="#5d78d0" stroke-width="1"/><polygon points="1,9 9,15.500 9,19 1,12.500" fill="#c4d2f8" stroke="#5d78d0" stroke-width=".9"/><polygon points="9,15.500 21,7 21,10 9,19" fill="#d4defa" stroke="#5d78d0" stroke-width=".9"/><path d="M5 8.500l6 4.500 7-5" fill="none" stroke="#7d95de" stroke-width=".9"/></svg></div>
<div class="a" style="left:1638px;top:280.5px"><svg width="18" height="16" viewBox="0 0 18 16"><path d="M5 8V6a4 4 0 0 1 8 0v2" fill="none" stroke="#c4c4c4" stroke-width="2.200"/><ellipse cx="9" cy="10.500" rx="7.300" ry="4.800" fill="#b5b5b5"/><ellipse cx="9" cy="9.500" rx="6.300" ry="3.300" fill="#d6d6d6"/><circle cx="9.500" cy="10.500" r="1.800" fill="#555"/></svg></div>
<div class="a" style="left:1638px;top:310.5px"><svg width="18" height="16" viewBox="0 0 18 16"><ellipse cx="9" cy="13.500" rx="7" ry="2" fill="#ddd"/><circle cx="9" cy="5.500" r="4.800" fill="#f8e71c"/><circle cx="5.500" cy="9.500" r="4.800" fill="#15a8e8"/><circle cx="12.500" cy="9.500" r="4.800" fill="#ea1f8f"/><circle cx="9" cy="8" r="2.900" fill="#111"/></svg></div>
<div class="a" style="left:1636px;top:344px"><svg width="22" height="22" viewBox="0 0 22 22"><polygon points="9,1 17,1 21,5 21,17 9,17" fill="#dfe8ff" stroke="#6f8fe0" stroke-width="1"/><polygon points="1,4.500 10,4.500 14,8.500 14,21 1,21" fill="#e2e2e2" stroke="#777" stroke-width="1.100"/><path d="M10 4.500v4h4" fill="#f6f6f6" stroke="#777" stroke-width="1"/></svg></div>
<div class="a" style="left:1638px;top:372.5px"><svg width="18" height="16" viewBox="0 0 18 16"><path d="M5 8V6a4 4 0 0 1 8 0v2" fill="none" stroke="#c4c4c4" stroke-width="2.200"/><ellipse cx="9" cy="10.500" rx="7.300" ry="4.800" fill="#b5b5b5"/><ellipse cx="9" cy="9.500" rx="6.300" ry="3.300" fill="#d6d6d6"/><circle cx="9.500" cy="10.500" r="1.800" fill="#555"/></svg></div>
<div class="a" style="left:1638px;top:402.5px"><svg width="18" height="16" viewBox="0 0 18 16"><ellipse cx="9" cy="13.500" rx="7" ry="2" fill="#ddd"/><circle cx="9" cy="5.500" r="4.800" fill="#f8e71c"/><circle cx="5.500" cy="9.500" r="4.800" fill="#15a8e8"/><circle cx="12.500" cy="9.500" r="4.800" fill="#ea1f8f"/><circle cx="9" cy="8" r="2.900" fill="#111"/></svg></div>
<div class="a" style="left:1637px;top:437px"><svg width="20" height="22" viewBox="0 0 20 22"><polygon points="3,1.500 13,1.500 18,6 18,20.500 3,20.500" fill="#dfe8ff" stroke="#6f8fe0" stroke-width="1"/><path d="M3 5l14 14M17 5L3 19" stroke="#9fb6ee" stroke-width=".8"/><path d="M1 12c4-5.500 12-5.500 17 0-5 5.500-13 5.500-17 0z" fill="#f6c8a0" stroke="#d86a2a" stroke-width="1"/><circle cx="9.500" cy="12" r="3" fill="#a84a1a"/><circle cx="9.500" cy="12" r="1.300" fill="#222"/></svg></div>
<div class="a" style="left:1637.5px;top:465px"><svg width="19" height="19" viewBox="0 0 20 20"><circle cx="10" cy="10" r="9" fill="#3fae49"/><circle cx="10" cy="10" r="6.500" fill="#fff"/><path d="M10 10V5.500M10 10l3-2" stroke="#444" stroke-width="1.400" stroke-linecap="round"/><circle cx="10" cy="10" r="9" fill="none" stroke="#2c8a36" stroke-width=".8"/></svg></div>
<div class="a" style="left:1636px;top:493.5px"><svg width="22" height="14" viewBox="0 0 22 14"><path d="M1.500 3.500c1.500 2 1.500 5 0 7M4.500 2.500c2 2.500 2 6.500 0 9" fill="none" stroke="#5d78d0" stroke-width="1.200"/><rect x="11" y="1" width="7" height="6.500" fill="#fff" stroke="#3f5cc0" stroke-width="1.300"/><path d="M13 4.500h3" stroke="#3f5cc0" stroke-width="1.200"/><path d="M8.500 12.500v-4h12v4z" fill="#fff" stroke="#3f5cc0" stroke-width="1.300"/></svg></div>
<div class="a b" style="left:1660px;width:70.300px;top:256px;text-align:right;font-size:14.500px;line-height:16px;color:#444;white-space:nowrap"><span style="letter-spacing:0.17px">229</span></div>
<div class="a s" style="left:1734.600px;top:257.0px;color:#777;line-height:16px;white-space:nowrap"><span style="letter-spacing:-0.06px">page(s)</span></div>
<div class="a b" style="left:1660px;width:70.300px;top:283px;text-align:right;font-size:14.500px;line-height:16px;color:#444;white-space:nowrap"><span style="letter-spacing:0.17px">137</span></div>
<div class="a" style="left:1741.500px;top:284.4px;width:62px;height:14px;box-sizing:border-box;border:1px solid #8d8d8d;border-radius:2px;background:linear-gradient(#fdfdfd,#f0f0f0);box-shadow:0 1px 1px #ccc"></div>
<div class="a" style="left:1741.500px;top:284.4px;width:37.0px;height:14px;box-sizing:border-box;border:1px solid #50566f;border-radius:2px 0 0 2px;background:linear-gradient(#9aa1bf,#8088aa 45%,#7d85a6)"></div>
<div class="a v" style="left:1813.500px;top:284.5px;line-height:16px;font-size:14.500px"><span style="letter-spacing:-0.36px">(59,83%)</span></div>
<div class="a b" style="left:1660px;width:70.300px;top:313px;text-align:right;font-size:14.500px;line-height:16px;color:#444;white-space:nowrap"><span style="letter-spacing:0.08px">92</span></div>
<div class="a" style="left:1741.500px;top:314.3px;width:62px;height:14px;box-sizing:border-box;border:1px solid #8d8d8d;border-radius:2px;background:linear-gradient(#fdfdfd,#f0f0f0);box-shadow:0 1px 1px #ccc"></div>
<div class="a" style="left:1741.500px;top:314.3px;width:26.200000000000045px;height:14px;box-sizing:border-box;border:1px solid #b8140a;border-radius:2px 0 0 2px;background:linear-gradient(#f36a5c,#e8190c 45%,#e41408)"></div>
<div class="a v" style="left:1813.500px;top:314.5px;line-height:16px;font-size:14.500px"><span style="letter-spacing:-0.36px">(40,17%)</span></div>
<div class="a b" style="left:1660px;width:70.300px;top:348px;text-align:right;font-size:14.500px;line-height:16px;color:#444;white-space:nowrap"><span style="letter-spacing:0.08px">38</span></div>
<div class="a b" style="left:1739px;top:348px;line-height:16px;font-size:14.500px;color:#222;white-space:nowrap"><span style="letter-spacing:0.21px">( 16,59% )</span></div>
<div class="a b" style="left:1660px;width:70.300px;top:374.6px;text-align:right;font-size:14.500px;line-height:16px;color:#444;white-space:nowrap"><span style="letter-spacing:0.08px">22</span></div>
<div class="a" style="left:1741.500px;top:376.4px;width:62px;height:14px;box-sizing:border-box;border:1px solid #8d8d8d;border-radius:2px;background:linear-gradient(#fdfdfd,#f0f0f0);box-shadow:0 1px 1px #ccc"></div>
<div class="a" style="left:1741.500px;top:376.4px;width:35.5px;height:14px;box-sizing:border-box;border:1px solid #50566f;border-radius:2px 0 0 2px;background:linear-gradient(#9aa1bf,#8088aa 45%,#7d85a6)"></div>
<div class="a v" style="left:1813.500px;top:378px;line-height:16px;font-size:14.500px"><span style="letter-spacing:-0.36px">(57,89%)</span></div>
<div class="a b" style="left:1660px;width:70.300px;top:404.6px;text-align:right;font-size:14.500px;line-height:16px;color:#444;white-space:nowrap"><span style="letter-spacing:0.08px">16</span></div>
<div class="a" style="left:1741.500px;top:406.5px;width:62px;height:14px;box-sizing:border-box;border:1px solid #8d8d8d;border-radius:2px;background:linear-gradient(#fdfdfd,#f0f0f0);box-shadow:0 1px 1px #ccc"></div>
<div class="a" style="left:1741.500px;top:406.5px;width:26.90000000000009px;height:14px;box-sizing:border-box;border:1px solid #b8140a;border-radius:2px 0 0 2px;background:linear-gradient(#f36a5c,#e8190c 45%,#e41408)"></div>
<div class="a v" style="left:1813.500px;top:407.8px;line-height:16px;font-size:14.500px"><span style="letter-spacing:-0.22px">(42,11%)</span></div>
<div class="a b" style="left:1660px;width:70.300px;top:441.3px;text-align:right;font-size:14.500px;line-height:16px;color:#444;white-space:nowrap"><span style="letter-spacing:0.17px">191</span></div>
<div class="a b" style="left:1739px;top:441.3px;line-height:16px;font-size:14.500px;color:#222;white-space:nowrap"><span style="letter-spacing:0.21px">( 83,41% )</span></div>
<div class="a b" style="left:1660px;width:70.300px;top:467px;text-align:right;font-size:14.500px;line-height:16px;color:#444;white-space:nowrap"><span style="letter-spacing:-0.38px">0</span></div>
<div class="a s" style="left:1734.600px;top:467.8px;color:#777;line-height:16px;white-space:nowrap"><span style="letter-spacing:-0.06px">page(s)</span></div>
<div class="a b" style="left:1747px;top:493px;line-height:16px;font-size:14.500px;color:#222;white-space:nowrap"><span style="letter-spacing:-0.06px">1.2 ms</span></div>
<div class="a b" style="left:1505px;width:375px;top:523.1px;text-align:center;font-size:12.500px;color:#222;line-height:14px"><span style="letter-spacing:-0.67px">LCD</span></div>
<div class="a" style="left:1504.500px;top:542.500px;width:376px;height:38.500px;background:#f8fafe"></div>
<div class="a" style="left:1505.500px;top:545px;width:374.500px;height:34.500px;box-sizing:border-box;border:1px solid #a9bcd8;background:#fff"></div>
<div class="a" style="left:1507.500px;top:547px;width:370.500px;height:30.500px;background:#dfebe3;text-align:center;font-family:'Liberation Mono','DejaVu Sans Mono',monospace;font-size:16px;line-height:30px;color:#565c78">Prêt</div>
<div class="a b" style="left:1505px;width:375px;top:590.1px;text-align:center;font-size:12.500px;color:#222;line-height:14px"><span style="letter-spacing:-0.83px">LED</span></div>
<div class="a" style="left:1504.500px;top:609.500px;width:376px;height:53px;background:#f8fafe"></div>
<div class="a" style="left:1505.500px;top:611px;width:374.500px;height:50.500px;box-sizing:border-box;border:1px solid #a9bcd8;background:#f6f8fd"></div>
<div class="a" style="left:1509px;top:616px;width:181.8px;height:19.7px;background:#fff"></div>
<div class="a" style="left:1692px;top:616px;width:183.2px;height:19.7px;background:#fff"></div>
<div class="a" style="left:1509px;top:637px;width:181.8px;height:19.7px;background:#fff"></div>
<div class="a" style="left:1692px;top:637px;width:183.2px;height:19.7px;background:#fff"></div>
<svg class="a" style="left:1505px;top:612px" width="375" height="50" viewBox="1505 612 375 50">
<defs><radialGradient id="ledg" cx=".4" cy=".35" r=".7"><stop offset="0" stop-color="#f4f6fa"/><stop offset="1" stop-color="#c5cad6"/></radialGradient>
<radialGradient id="ledb" cx=".45" cy=".4" r=".7"><stop offset="0" stop-color="#6a8cff"/><stop offset="1" stop-color="#4a6cf0"/></radialGradient></defs>
<circle cx="1519.700" cy="626.300" r="6.200" fill="url(#ledg)" stroke="#4cb050" stroke-width="1.500"/>
<circle cx="1702.600" cy="626.300" r="6.200" fill="url(#ledg)" stroke="#4cb050" stroke-width="1.500"/>
<circle cx="1519.700" cy="647.600" r="6.200" fill="url(#ledg)" stroke="#e0413c" stroke-width="1.500"/>
<circle cx="1702.600" cy="647.600" r="6.400" fill="#e6ebff" stroke="#8fa6f4" stroke-width="1.400"/>
<circle cx="1702.600" cy="647.600" r="4.300" fill="url(#ledb)"/>
</svg>
<div class="a" style="left:1532px;top:617.6px;line-height:16px;white-space:nowrap;color:#3a4060;font-size:12.500px"><span style="letter-spacing:-0.69px">PROCESSING</span></div>
<div class="a" style="left:1716px;top:617.6px;line-height:16px;white-space:nowrap;color:#3a4060;font-size:12.500px"><span style="letter-spacing:-0.17px">MEMORY</span></div>
<div class="a" style="left:1532px;top:638.8px;line-height:16px;white-space:nowrap;color:#3a4060;font-size:12.500px"><span style="letter-spacing:-0.21px">ATTENTION</span></div>
<div class="a" style="left:1716px;top:638.6px;line-height:16px;white-space:nowrap;font-weight:bold;color:#2b3a6a;font-size:13px"><span style="letter-spacing:-0.24px">BackLight</span></div>
<div class="a b" style="left:1505px;width:375px;top:672.5px;text-align:center;font-size:12.500px;color:#222;line-height:14px"><span style="letter-spacing:0.30px">État journalier</span></div>
<div class="a" style="left:1504.500px;top:692px;width:376px;height:215px;background:#fff"></div>
<svg class="a" style="left:1500px;top:690px" width="385" height="195" viewBox="1500 690 385 195">
<defs>
<pattern id="hr" width="7.070" height="7.070" patternUnits="userSpaceOnUse" patternTransform="rotate(-45)"><rect width="7.070" height="7.070" fill="#7d6a6a"/><rect width="7.070" height="1.250" fill="#f08a8a"/></pattern><pattern id="hr2" width="7.070" height="7.070" patternUnits="userSpaceOnUse" patternTransform="rotate(-45) translate(0 3.500)"><rect width="7.070" height="1.250" fill="#f08a8a"/></pattern>
<pattern id="hl" width="7.070" height="7.070" patternUnits="userSpaceOnUse" patternTransform="rotate(-45)"><rect width="7.070" height="7.070" fill="#dcdef0"/><rect width="7.070" height="1.500" fill="#e8eaf8"/></pattern>
</defs>
<rect x="1505.300" y="694" width="372" height="167.500" fill="#fff"/>
<rect x="1505.300" y="694" width="118.600" height="167.500" fill="url(#hr)"/>
<rect x="1599" y="694" width="24.900" height="167.500" fill="url(#hr2)"/>
<rect x="1632.500" y="694" width="244.800" height="167.500" fill="#e6e6fc"/>
<rect x="1660.500" y="694" width="184.500" height="167.500" fill="url(#hl)"/>
<path d="M1853.500 785v76M1860.500 838v23M1865.800 834v27M1873.500 750v111M1788.500 856v5M1634.500 780v81" stroke="#fff" stroke-width="1"/>
<path d="M1505.300 694.500h372.500" stroke="#777" stroke-width="1"/>
<path d="M1877.300 694v167.500" stroke="#777" stroke-width="1"/>
<path d="M1505.300 861.500h372.500" stroke="#444" stroke-width="1.200"/>
<path d="M1505.500 861v4M1598.300 861v4M1691.300 861v4M1784.300 861v4M1877.300 861v4" stroke="#444" stroke-width="1"/>
<g font-family="Liberation Sans, sans-serif" font-size="10.500" fill="#333">
<text x="1505.500" y="877.300" textLength="23.500" lengthAdjust="spacingAndGlyphs">-24h</text>
<text x="1586.600" y="877.300" textLength="23.500" lengthAdjust="spacingAndGlyphs">-18h</text>
<text x="1679.200" y="877.300" textLength="23.500" lengthAdjust="spacingAndGlyphs">-12h</text>
<text x="1775.700" y="877.300" textLength="17" lengthAdjust="spacingAndGlyphs">-6h</text>
<text x="1872.300" y="877.300">0</text>
</g>
</svg>
<div class="a lab" style="left:1505px;top:881px;width:130px;height:25px;background:#f8f8fa"><div class="lt" style="padding-right:8px;line-height:24px;margin-top:-.8px"><span style="letter-spacing:-0.15px">En veille</span></div></div>
<svg class="a" style="left:1637px;top:882px" width="20" height="20" viewBox="0 0 20 20"><circle cx="10" cy="10" r="8.800" fill="#dfe6f8"/><path d="M6.300 5.500a6 6 0 1 0 7.400 0" fill="none" stroke="#3a62c0" stroke-width="2.300" stroke-linecap="round"/><path d="M10 3v6.500" stroke="#3a62c0" stroke-width="2.300" stroke-linecap="round"/></svg>
<div class="a" style="left:1661px;top:883.500px;width:158px;height:14.500px;box-sizing:border-box;border:1px solid #999;border-radius:2px;background:#fafafa;box-shadow:0 1px 1px #ccc"></div>
<div class="a" style="left:1661px;top:883.500px;width:154px;height:14.500px;box-sizing:border-box;border:1px solid #2f68b8;border-radius:2px 0 0 2px;background:linear-gradient(#6fa6e6,#3f83d2 40%,#3b7fce)"></div>
<div class="a v" style="left:1829.800px;top:885.800px;line-height:16px;font-size:14.500px"><span style="letter-spacing:-0.29px">97,5 %</span></div>

<!-- CONSOMMABLES -->
<div class="a h" style="left:29.5px;top:622.7px"><span style="letter-spacing:-0.28px">Consommables</span></div>
<div class="a hl" style="left:165.5px;top:629.9000000000001px;width:1316.5px"></div>
<div class="a" style="left:24.500px;top:648.500px;width:1458px;height:152.500px;box-sizing:border-box;border:1px solid #eeeef2;border-bottom:none"></div>
<div class="a" style="left:25.9px;top:650px;width:23.700000000000003px;height:18.600000000000023px;background:#eef2fc"></div>
<div class="a" style="left:51.1px;top:650px;width:333.59999999999997px;height:18.600000000000023px;background:#eef2fc"><div class="b" style="font-size:13.500px;line-height:20.100000000000023px;color:#222;text-align:left;padding-left:11.2px;white-space:nowrap"><span style="letter-spacing:0.13px">Consommable</span></div></div>
<div class="a" style="left:386.2px;top:650px;width:17.5px;height:18.600000000000023px;background:#eef2fc"></div>
<div class="a" style="left:405.3px;top:650px;width:64.59999999999997px;height:18.600000000000023px;background:#eef2fc"><div class="b" style="font-size:13.500px;line-height:20.100000000000023px;color:#222;text-align:center;padding-left:0px;white-space:nowrap"><span style="letter-spacing:-0.03px">État</span></div></div>
<div class="a" style="left:471.3px;top:650px;width:67.30000000000001px;height:18.600000000000023px;background:#eef2fc"><div class="b" style="font-size:13.500px;line-height:20.100000000000023px;color:#222;text-align:center;padding-left:0px;white-space:nowrap"><span style="letter-spacing:-0.03px">Restant</span></div></div>
<div class="a" style="left:540px;top:650px;width:615px;height:18.600000000000023px;background:#eef2fc"><div class="b" style="font-size:13.500px;line-height:20.100000000000023px;color:#222;text-align:left;padding-left:11.7px;white-space:nowrap"><span style="letter-spacing:0.22px">Niveau</span></div></div>
<div class="a" style="left:1156.6px;top:650px;width:324.70000000000005px;height:18.600000000000023px;background:#eef2fc"><div class="b" style="font-size:13.500px;line-height:20.100000000000023px;color:#222;text-align:center;padding-left:0px;white-space:nowrap"><span style="letter-spacing:0.28px">Mensuel</span></div></div>
<svg class="a" style="left:0;top:0" width="0" height="0"><defs><pattern id="hg" width="7.070" height="7.070" patternUnits="userSpaceOnUse" patternTransform="rotate(-45)"><rect width="7.070" height="7.070" fill="#eaeaea"/><rect width="7.070" height="1.600" fill="#f4f4f4"/></pattern></defs></svg>
<div class="a" style="left:25.9px;top:693.8px;width:23.700000000000003px;height:1.200px;background:#e9e9ee"></div>
<div class="a" style="left:51.1px;top:693.8px;width:333.59999999999997px;height:1.200px;background:#e9e9ee"></div>
<div class="a" style="left:386.2px;top:693.8px;width:17.5px;height:1.200px;background:#e9e9ee"></div>
<div class="a" style="left:405.3px;top:693.8px;width:64.59999999999997px;height:1.200px;background:#e9e9ee"></div>
<div class="a" style="left:471.3px;top:693.8px;width:67.30000000000001px;height:1.200px;background:#e9e9ee"></div>
<div class="a" style="left:540px;top:693.8px;width:615px;height:1.200px;background:#e9e9ee"></div>
<div class="a" style="left:1156.6px;top:693.8px;width:324.70000000000005px;height:1.200px;background:#e9e9ee"></div>
<div class="a" style="left:29.8px;top:672.3px"><svg width="20" height="20" viewBox="0 0 20 20"><defs><radialGradient id="dp" cx=".4" cy=".65" r=".55"><stop offset="0" stop-color="#fbc4d4"/><stop offset="1" stop-color="#ec5582"/></radialGradient><radialGradient id="db" cx=".4" cy=".65" r=".55"><stop offset="0" stop-color="#cdd0fb"/><stop offset="1" stop-color="#656dde"/></radialGradient><radialGradient id="dy" cx=".4" cy=".65" r=".55"><stop offset="0" stop-color="#fff2b4"/><stop offset="1" stop-color="#f0be18"/></radialGradient></defs><path d="M3.9 0.3C5.2 3.9 7.6 6.3 7.6 9.200000000000001a3.7 3.7 0 0 1-7.4 0C0.19999999999999973 6.3 2.5999999999999996 3.9 3.9 0.3z" fill="url(#dp)"/><path d="M15.6 0.3C16.9 3.9 19.3 6.3 19.3 9.200000000000001a3.7 3.7 0 0 1-7.4 0C11.899999999999999 6.3 14.299999999999999 3.9 15.6 0.3z" fill="url(#db)"/><path d="M9.9 6.9C11.200000000000001 10.5 13.600000000000001 12.9 13.600000000000001 15.8a3.7 3.7 0 0 1-7.4 0C6.2 12.9 8.6 10.5 9.9 6.9z" fill="url(#dy)"/></svg></div>
<div class="a v" style="left:55.500px;top:674.3px;line-height:18px;font-size:14.500px;color:#2a2a2a"><span style="letter-spacing:0.03px">TK-8365K</span></div>
<div class="a" style="left:387.200px;top:675.0px;width:13px;height:13px;box-sizing:border-box;border:1px solid #3a3f4c;background:linear-gradient(#8a92aa 0,#8a92aa 22%,#454b5a 38%)"></div>
<div class="a" style="left:413.800px;top:674.3px;line-height:18px;font-size:14.500px;color:#222;white-space:nowrap"><span style="letter-spacing:-0.52px"><b>96</b>%</span></div>
<div class="a" style="left:471px;width:64px;top:674.3px;line-height:18px;font-size:14.500px;color:#555;text-align:right;white-space:nowrap"><span style="letter-spacing:-0.03px">24 000</span></div>
<div class="a" style="left:540px;top:673.2px;width:614px;height:15px;box-sizing:border-box;border:1px solid #8d8d8d;border-radius:2.500px;background:linear-gradient(#fdfdfd,#f2f2f2);box-shadow:0 1px 1px #d0d0d0"></div>
<div class="a" style="left:540px;top:673.2px;width:587.7px;height:15px;box-sizing:border-box;border:1px solid #3a404c;border-radius:2.500px 0 0 2.500px;background:linear-gradient(#7d8598 0,#6a7286 14%,#434a56 30%,#434a56)"></div>
<svg class="a" style="left:1157.800px;top:671px" width="320.700" height="21.399999999999977"><rect width="320.700" height="21.399999999999977" fill="url(#hg)"/><rect x="319.300" width="1.300" height="21.399999999999977" fill="#3a3a3a"/></svg>
<div class="a" style="left:25.9px;top:720.9px;width:23.700000000000003px;height:1.200px;background:#e9e9ee"></div>
<div class="a" style="left:51.1px;top:720.9px;width:333.59999999999997px;height:1.200px;background:#e9e9ee"></div>
<div class="a" style="left:386.2px;top:720.9px;width:17.5px;height:1.200px;background:#e9e9ee"></div>
<div class="a" style="left:405.3px;top:720.9px;width:64.59999999999997px;height:1.200px;background:#e9e9ee"></div>
<div class="a" style="left:471.3px;top:720.9px;width:67.30000000000001px;height:1.200px;background:#e9e9ee"></div>
<div class="a" style="left:540px;top:720.9px;width:615px;height:1.200px;background:#e9e9ee"></div>
<div class="a" style="left:1156.6px;top:720.9px;width:324.70000000000005px;height:1.200px;background:#e9e9ee"></div>
<div class="a" style="left:29.8px;top:699.1px"><svg width="20" height="20" viewBox="0 0 20 20"><defs><radialGradient id="dp" cx=".4" cy=".65" r=".55"><stop offset="0" stop-color="#fbc4d4"/><stop offset="1" stop-color="#ec5582"/></radialGradient><radialGradient id="db" cx=".4" cy=".65" r=".55"><stop offset="0" stop-color="#cdd0fb"/><stop offset="1" stop-color="#656dde"/></radialGradient><radialGradient id="dy" cx=".4" cy=".65" r=".55"><stop offset="0" stop-color="#fff2b4"/><stop offset="1" stop-color="#f0be18"/></radialGradient></defs><path d="M3.9 0.3C5.2 3.9 7.6 6.3 7.6 9.200000000000001a3.7 3.7 0 0 1-7.4 0C0.19999999999999973 6.3 2.5999999999999996 3.9 3.9 0.3z" fill="url(#dp)"/><path d="M15.6 0.3C16.9 3.9 19.3 6.3 19.3 9.200000000000001a3.7 3.7 0 0 1-7.4 0C11.899999999999999 6.3 14.299999999999999 3.9 15.6 0.3z" fill="url(#db)"/><path d="M9.9 6.9C11.200000000000001 10.5 13.600000000000001 12.9 13.600000000000001 15.8a3.7 3.7 0 0 1-7.4 0C6.2 12.9 8.6 10.5 9.9 6.9z" fill="url(#dy)"/></svg></div>
<div class="a v" style="left:55.500px;top:701.1px;line-height:18px;font-size:14.500px;color:#2a2a2a"><span style="letter-spacing:-0.07px">TK-8365C</span></div>
<div class="a" style="left:387.200px;top:701.8000000000001px;width:13px;height:13px;box-sizing:border-box;border:1px solid #1596a6;background:linear-gradient(#a8f0f6 0,#7ae6ee 25%,#12d2e2 42%)"></div>
<div class="a" style="left:413.800px;top:701.1px;line-height:18px;font-size:14.500px;color:#222;white-space:nowrap"><span style="letter-spacing:-0.52px"><b>92</b>%</span></div>
<div class="a" style="left:471px;width:64px;top:701.1px;line-height:18px;font-size:14.500px;color:#555;text-align:right;white-space:nowrap"><span style="letter-spacing:0.15px">11 040</span></div>
<div class="a" style="left:540px;top:700.3px;width:614px;height:15px;box-sizing:border-box;border:1px solid #8d8d8d;border-radius:2.500px;background:linear-gradient(#fdfdfd,#f2f2f2);box-shadow:0 1px 1px #d0d0d0"></div>
<div class="a" style="left:540px;top:700.3px;width:563.5999999999999px;height:15px;box-sizing:border-box;border:1px solid #22b6cc;border-radius:2.500px 0 0 2.500px;background:linear-gradient(#d4f8fb 0,#b4f0f6 20%,#9deaf2 45%,#9deaf2)"></div>
<svg class="a" style="left:1157.800px;top:698.3px" width="320.700" height="21.0"><rect width="320.700" height="21.0" fill="url(#hg)"/><rect x="319.300" width="1.300" height="21.0" fill="#22c0d8"/></svg>
<div class="a" style="left:25.9px;top:747.3px;width:23.700000000000003px;height:1.200px;background:#e9e9ee"></div>
<div class="a" style="left:51.1px;top:747.3px;width:333.59999999999997px;height:1.200px;background:#e9e9ee"></div>
<div class="a" style="left:386.2px;top:747.3px;width:17.5px;height:1.200px;background:#e9e9ee"></div>
<div class="a" style="left:405.3px;top:747.3px;width:64.59999999999997px;height:1.200px;background:#e9e9ee"></div>
<div class="a" style="left:471.3px;top:747.3px;width:67.30000000000001px;height:1.200px;background:#e9e9ee"></div>
<div class="a" style="left:540px;top:747.3px;width:615px;height:1.200px;background:#e9e9ee"></div>
<div class="a" style="left:1156.6px;top:747.3px;width:324.70000000000005px;height:1.200px;background:#e9e9ee"></div>
<div class="a" style="left:29.8px;top:725.3px"><svg width="20" height="20" viewBox="0 0 20 20"><defs><radialGradient id="dp" cx=".4" cy=".65" r=".55"><stop offset="0" stop-color="#fbc4d4"/><stop offset="1" stop-color="#ec5582"/></radialGradient><radialGradient id="db" cx=".4" cy=".65" r=".55"><stop offset="0" stop-color="#cdd0fb"/><stop offset="1" stop-color="#656dde"/></radialGradient><radialGradient id="dy" cx=".4" cy=".65" r=".55"><stop offset="0" stop-color="#fff2b4"/><stop offset="1" stop-color="#f0be18"/></radialGradient></defs><path d="M3.9 0.3C5.2 3.9 7.6 6.3 7.6 9.200000000000001a3.7 3.7 0 0 1-7.4 0C0.19999999999999973 6.3 2.5999999999999996 3.9 3.9 0.3z" fill="url(#dp)"/><path d="M15.6 0.3C16.9 3.9 19.3 6.3 19.3 9.200000000000001a3.7 3.7 0 0 1-7.4 0C11.899999999999999 6.3 14.299999999999999 3.9 15.6 0.3z" fill="url(#db)"/><path d="M9.9 6.9C11.200000000000001 10.5 13.600000000000001 12.9 13.600000000000001 15.8a3.7 3.7 0 0 1-7.4 0C6.2 12.9 8.6 10.5 9.9 6.9z" fill="url(#dy)"/></svg></div>
<div class="a v" style="left:55.500px;top:727.3px;line-height:18px;font-size:14.500px;color:#2a2a2a"><span style="letter-spacing:0.22px">TK-8365M</span></div>
<div class="a" style="left:387.200px;top:728.0px;width:13px;height:13px;box-sizing:border-box;border:1px solid #a60a6e;background:linear-gradient(#f690d4 0,#f060c0 25%,#e8089a 42%)"></div>
<div class="a" style="left:413.800px;top:727.3px;line-height:18px;font-size:14.500px;color:#222;white-space:nowrap"><span style="letter-spacing:-0.52px"><b>90</b>%</span></div>
<div class="a" style="left:471px;width:64px;top:727.3px;line-height:18px;font-size:14.500px;color:#555;text-align:right;white-space:nowrap"><span style="letter-spacing:-0.03px">10 800</span></div>
<div class="a" style="left:540px;top:726.2px;width:614px;height:15px;box-sizing:border-box;border:1px solid #8d8d8d;border-radius:2.500px;background:linear-gradient(#fdfdfd,#f2f2f2);box-shadow:0 1px 1px #d0d0d0"></div>
<div class="a" style="left:540px;top:726.2px;width:551.5px;height:15px;box-sizing:border-box;border:1px solid #e858bc;border-radius:2.500px 0 0 2.500px;background:linear-gradient(#fbd0ee 0,#f6b0e2 20%,#f29dd8 45%,#f29dd8)"></div>
<svg class="a" style="left:1157.800px;top:724.5px" width="320.700" height="21.0"><rect width="320.700" height="21.0" fill="url(#hg)"/><rect x="319.300" width="1.300" height="21.0" fill="#e8109a"/></svg>
<div class="a" style="left:25.9px;top:773.7px;width:23.700000000000003px;height:1.200px;background:#e9e9ee"></div>
<div class="a" style="left:51.1px;top:773.7px;width:333.59999999999997px;height:1.200px;background:#e9e9ee"></div>
<div class="a" style="left:386.2px;top:773.7px;width:17.5px;height:1.200px;background:#e9e9ee"></div>
<div class="a" style="left:405.3px;top:773.7px;width:64.59999999999997px;height:1.200px;background:#e9e9ee"></div>
<div class="a" style="left:471.3px;top:773.7px;width:67.30000000000001px;height:1.200px;background:#e9e9ee"></div>
<div class="a" style="left:540px;top:773.7px;width:615px;height:1.200px;background:#e9e9ee"></div>
<div class="a" style="left:1156.6px;top:773.7px;width:324.70000000000005px;height:1.200px;background:#e9e9ee"></div>
<div class="a" style="left:29.8px;top:752.0px"><svg width="20" height="20" viewBox="0 0 20 20"><defs><radialGradient id="dp" cx=".4" cy=".65" r=".55"><stop offset="0" stop-color="#fbc4d4"/><stop offset="1" stop-color="#ec5582"/></radialGradient><radialGradient id="db" cx=".4" cy=".65" r=".55"><stop offset="0" stop-color="#cdd0fb"/><stop offset="1" stop-color="#656dde"/></radialGradient><radialGradient id="dy" cx=".4" cy=".65" r=".55"><stop offset="0" stop-color="#fff2b4"/><stop offset="1" stop-color="#f0be18"/></radialGradient></defs><path d="M3.9 0.3C5.2 3.9 7.6 6.3 7.6 9.200000000000001a3.7 3.7 0 0 1-7.4 0C0.19999999999999973 6.3 2.5999999999999996 3.9 3.9 0.3z" fill="url(#dp)"/><path d="M15.6 0.3C16.9 3.9 19.3 6.3 19.3 9.200000000000001a3.7 3.7 0 0 1-7.4 0C11.899999999999999 6.3 14.299999999999999 3.9 15.6 0.3z" fill="url(#db)"/><path d="M9.9 6.9C11.200000000000001 10.5 13.600000000000001 12.9 13.600000000000001 15.8a3.7 3.7 0 0 1-7.4 0C6.2 12.9 8.6 10.5 9.9 6.9z" fill="url(#dy)"/></svg></div>
<div class="a v" style="left:55.500px;top:754.0px;line-height:18px;font-size:14.500px;color:#2a2a2a"><span style="letter-spacing:-0.16px">TK-8365Y</span></div>
<div class="a" style="left:387.200px;top:754.7px;width:13px;height:13px;box-sizing:border-box;border:1px solid #a6960a;background:linear-gradient(#f6ea8a 0,#f0de50 25%,#e8d008 42%)"></div>
<div class="a" style="left:413.800px;top:754.0px;line-height:18px;font-size:14.500px;color:#222;white-space:nowrap"><span style="letter-spacing:-0.52px"><b>92</b>%</span></div>
<div class="a" style="left:471px;width:64px;top:754.0px;line-height:18px;font-size:14.500px;color:#555;text-align:right;white-space:nowrap"><span style="letter-spacing:0.15px">11 040</span></div>
<div class="a" style="left:540px;top:753.3px;width:614px;height:15px;box-sizing:border-box;border:1px solid #8d8d8d;border-radius:2.500px;background:linear-gradient(#fdfdfd,#f2f2f2);box-shadow:0 1px 1px #d0d0d0"></div>
<div class="a" style="left:540px;top:753.3px;width:563.5999999999999px;height:15px;box-sizing:border-box;border:1px solid #d6b41e;border-radius:2.500px 0 0 2.500px;background:linear-gradient(#fcf4b8 0,#f8ea88 20%,#f6e470 45%,#f6e470)"></div>
<svg class="a" style="left:1157.800px;top:750.6px" width="320.700" height="21.399999999999977"><rect width="320.700" height="21.399999999999977" fill="url(#hg)"/><rect x="319.300" width="1.300" height="21.399999999999977" fill="#e8c61e"/></svg>
<div class="a" style="left:25.9px;top:800.2px;width:23.700000000000003px;height:1.200px;background:#e9e9ee"></div>
<div class="a" style="left:51.1px;top:800.2px;width:333.59999999999997px;height:1.200px;background:#e9e9ee"></div>
<div class="a" style="left:386.2px;top:800.2px;width:17.5px;height:1.200px;background:#e9e9ee"></div>
<div class="a" style="left:405.3px;top:800.2px;width:64.59999999999997px;height:1.200px;background:#e9e9ee"></div>
<div class="a" style="left:471.3px;top:800.2px;width:67.30000000000001px;height:1.200px;background:#e9e9ee"></div>
<div class="a" style="left:540px;top:800.2px;width:615px;height:1.200px;background:#e9e9ee"></div>
<div class="a" style="left:1156.6px;top:800.2px;width:324.70000000000005px;height:1.200px;background:#e9e9ee"></div>
<div class="a" style="left:30.5px;top:778.6px"><svg width="18" height="18" viewBox="0 0 18 18"><rect x="3" y="4.500" width="12" height="12.500" rx="1" fill="#e8308a"/><rect x="3" y="4.500" width="4" height="12.500" fill="#f2d21e"/><rect x="11" y="4.500" width="4" height="12.500" fill="#38b838"/><path d="M5 6v10M7.500 6v10M10 6v10M12.500 6v10" stroke="#333" stroke-width=".9"/><rect x="1.500" y="2" width="15" height="4" rx="1.200" fill="#38b0e8" stroke="#1a88c0" stroke-width=".8"/><rect x="6.500" y=".5" width="5" height="2" fill="#38b0e8"/></svg></div>
<div class="a v" style="left:55.500px;top:780.1px;line-height:18px;font-size:14.500px;color:#2a2a2a"><span style="letter-spacing:0.16px">Waste Toner Box</span></div>
<div class="a" style="left:387.200px;top:780.8000000000001px;width:13px;height:13px;box-sizing:border-box;border:1px solid #6e7388;background:#a6acd4"></div>
<div class="a b" style="left:416.400px;top:779.9px;line-height:18px;font-size:14.500px;color:#167a16;white-space:nowrap"><span style="letter-spacing:-0.57px">OK</span></div>
<div class="a" style="left:471px;width:64px;top:780.1px;line-height:18px;font-size:14.500px;color:#555;text-align:right;white-space:nowrap"><span style="letter-spacing:0.06px">-</span></div>
<div class="a s" style="left:540px;top:779px;width:615px;height:18.500px;background:#effdf0;text-align:center;line-height:18.500px;color:#333;font-size:12px"><span style="letter-spacing:-0.10px">Non vide</span></div>
<div class="a" style="left:1157.800px;top:777.500px;width:320.700px;height:20.500px;box-sizing:border-box;border:1px dotted #e4e4ee;background:#fafafd"></div>
<div class="a" style="left:1482px;top:648.500px;width:1px;height:152px;background:#eeeef2"></div>

<!-- ALIMENTATION PAPIER -->
<div class="a h" style="left:29.3px;top:816.5px"><span style="letter-spacing:0.21px">Alimentation papier</span></div>
<div class="a hl" style="left:207.6px;top:823.7px;width:1274.4px"></div>
<div class="a" style="left:24.500px;top:843px;width:1458px;height:70px;box-sizing:border-box;border:1px solid #eeeef2;border-bottom:none"></div>
<div class="a" style="left:25.9px;top:844.6px;width:23.700000000000003px;height:18.199999999999932px;background:#eef2fc"></div>
<div class="a" style="left:51.4px;top:844.6px;width:319.3px;height:18.199999999999932px;background:#eef2fc"><div class="b" style="font-size:13.500px;line-height:19.699999999999932px;color:#222;text-align:left;padding-left:3.7px;white-space:nowrap"><span style="letter-spacing:-0.59px">Bac</span></div></div>
<div class="a" style="left:372.6px;top:844.6px;width:19.19999999999999px;height:18.199999999999932px;background:#eef2fc"></div>
<div class="a" style="left:393.7px;top:844.6px;width:62.80000000000001px;height:18.199999999999932px;background:#eef2fc"><div class="b" style="font-size:13.500px;line-height:19.699999999999932px;color:#222;text-align:center;padding-left:0px;white-space:nowrap"><span style="letter-spacing:0.07px">État</span></div></div>
<div class="a" style="left:458.4px;top:844.6px;width:696.6px;height:18.199999999999932px;background:#eef2fc"><div class="b" style="font-size:13.500px;line-height:19.699999999999932px;color:#222;text-align:left;padding-left:11.1px;white-space:nowrap"><span style="letter-spacing:0.20px">Niveau</span></div></div>
<div class="a" style="left:1156.6px;top:844.6px;width:324.70000000000005px;height:18.199999999999932px;background:#eef2fc"><div class="b" style="font-size:13.500px;line-height:19.699999999999932px;color:#222;text-align:center;padding-left:0px;white-space:nowrap"><span style="letter-spacing:0.38px">Hebdo.</span></div></div>
<div class="a" style="left:25.9px;top:889.1px;width:23.700000000000003px;height:1.200px;background:#e9e9ee"></div>
<div class="a" style="left:51.4px;top:889.1px;width:319.3px;height:1.200px;background:#e9e9ee"></div>
<div class="a" style="left:372.6px;top:889.1px;width:19.19999999999999px;height:1.200px;background:#e9e9ee"></div>
<div class="a" style="left:393.7px;top:889.1px;width:62.80000000000001px;height:1.200px;background:#e9e9ee"></div>
<div class="a" style="left:458.4px;top:889.1px;width:696.6px;height:1.200px;background:#e9e9ee"></div>
<div class="a" style="left:1156.6px;top:889.1px;width:324.70000000000005px;height:1.200px;background:#e9e9ee"></div>
<div class="a" style="left:30.700px;top:872.6999999999999px"><svg width="18.500" height="13" viewBox="0 0 20 14"><polygon points="5,1 19,1 15,7 1,7" fill="#f4f4f4" stroke="#8a7a78" stroke-width="1.100"/><polygon points="1,7 15,7 15,13 1,13" fill="#e6e2e0" stroke="#8a7a78" stroke-width="1.100"/><polygon points="15,7 19,1 19,7 15,13" fill="#cfc8c6" stroke="#8a7a78" stroke-width="1.100"/><path d="M2.500 10h11" stroke="#8a7a78" stroke-width="1"/></svg></div>
<div class="a v" style="left:55.100px;top:869.1999999999999px;line-height:18px;font-size:14.500px;color:#2a2a2a"><span style="letter-spacing:-0.27px">Cassette 1</span><i style="color:#aaa"><span style="letter-spacing:-0.02px"> - 29,7 x 21,0</span></i></div>
<div class="a" style="left:372px;top:867.4px"><svg width="20" height="20" viewBox="0 0 20 20"><polygon points="7,1 17,2.500 19,14 15.500,19.500 6,18" fill="#eaf0ff" stroke="#6f8fe0" stroke-width="1"/><text x="0.300" y="14" font-family="Liberation Sans, sans-serif" font-size="10.500" font-weight="bold" fill="#444" textLength="13.500" lengthAdjust="spacingAndGlyphs">A4</text></svg></div>
<div class="a" style="left:401px;top:869.1999999999999px;line-height:18px;font-size:14.500px;color:#222;white-space:nowrap"><span style="letter-spacing:-0.42px"><b>30</b>%</span></div>
<div class="a" style="left:461px;top:868.6px;width:690px;height:14px;box-sizing:border-box;border:1px solid #8d8d8d;border-radius:2px;background:linear-gradient(#fdfdfd,#f2f2f2);box-shadow:0 1px 1px #d0d0d0"></div>
<div class="a" style="left:461px;top:868.6px;width:207.300px;height:14px;box-sizing:border-box;border:1px solid #6e7486;border-radius:2px 0 0 2px;background:linear-gradient(#d4d7e4,#c2c6d6 40%,#bcc0d2)"></div>
<div class="a" style="left:1157.800px;top:866px;width:320.700px;height:21.500px;box-sizing:border-box;border:1px solid #dedee4;background:#fff"></div>
<div class="a" style="left:1419px;top:881.2px;width:33.300px;height:5.500px;background:#88d83e;border-radius:2px 2px 0 0"></div>
<div class="a" style="left:25.9px;top:914.9px;width:23.700000000000003px;height:1.200px;background:#e9e9ee"></div>
<div class="a" style="left:51.4px;top:914.9px;width:319.3px;height:1.200px;background:#e9e9ee"></div>
<div class="a" style="left:372.6px;top:914.9px;width:19.19999999999999px;height:1.200px;background:#e9e9ee"></div>
<div class="a" style="left:393.7px;top:914.9px;width:62.80000000000001px;height:1.200px;background:#e9e9ee"></div>
<div class="a" style="left:458.4px;top:914.9px;width:696.6px;height:1.200px;background:#e9e9ee"></div>
<div class="a" style="left:1156.6px;top:914.9px;width:324.70000000000005px;height:1.200px;background:#e9e9ee"></div>
<div class="a" style="left:30.700px;top:898.5px"><svg width="18.500" height="13" viewBox="0 0 20 14"><polygon points="5,1 19,1 15,7 1,7" fill="#f4f4f4" stroke="#8a7a78" stroke-width="1.100"/><polygon points="1,7 15,7 15,13 1,13" fill="#e6e2e0" stroke="#8a7a78" stroke-width="1.100"/><polygon points="15,7 19,1 19,7 15,13" fill="#cfc8c6" stroke="#8a7a78" stroke-width="1.100"/><path d="M2.500 10h11" stroke="#8a7a78" stroke-width="1"/></svg></div>
<div class="a v" style="left:55.100px;top:895.0px;line-height:18px;font-size:14.500px;color:#2a2a2a"><span style="letter-spacing:-0.27px">Cassette 2</span><i style="color:#aaa"><span style="letter-spacing:-0.02px"> - 29,7 x 42,0</span></i></div>
<div class="a" style="left:372px;top:893.2px"><svg width="20" height="20" viewBox="0 0 20 20"><polygon points="7,1 17,2.500 19,14 15.500,19.500 6,18" fill="#eaf0ff" stroke="#6f8fe0" stroke-width="1"/><text x="0.300" y="14" font-family="Liberation Sans, sans-serif" font-size="10.500" font-weight="bold" fill="#444" textLength="13.500" lengthAdjust="spacingAndGlyphs">A3</text></svg></div>
<div class="a" style="left:401px;top:895.0px;line-height:18px;font-size:14.500px;color:#222;white-space:nowrap"><span style="letter-spacing:-0.42px"><b>30</b>%</span></div>
<div class="a" style="left:461px;top:894.3px;width:690px;height:14px;box-sizing:border-box;border:1px solid #8d8d8d;border-radius:2px;background:linear-gradient(#fdfdfd,#f2f2f2);box-shadow:0 1px 1px #d0d0d0"></div>
<div class="a" style="left:461px;top:894.3px;width:207.300px;height:14px;box-sizing:border-box;border:1px solid #6e7486;border-radius:2px 0 0 2px;background:linear-gradient(#d4d7e4,#c2c6d6 40%,#bcc0d2)"></div>
<div class="a" style="left:1157.800px;top:892.3px;width:320.700px;height:21.500px;box-sizing:border-box;border:1px solid #dedee4;background:#fff"></div>
<div class="a" style="left:1419px;top:907.5px;width:33.300px;height:5.500px;background:#88d83e;border-radius:2px 2px 0 0"></div>
<div class="a" style="left:1482px;top:843px;width:1px;height:70px;background:#eeeef2"></div>

</body>
</html>
